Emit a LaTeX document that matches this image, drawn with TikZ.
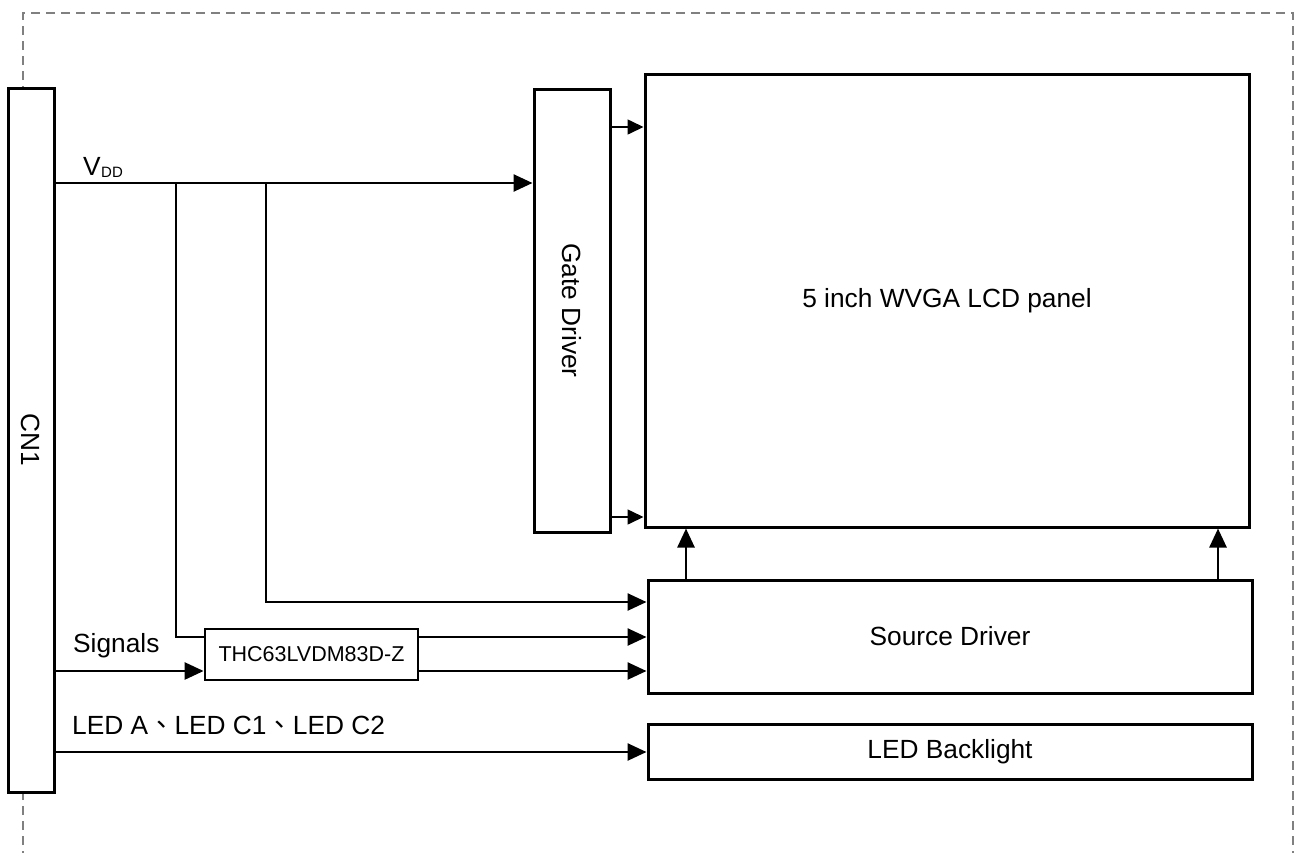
\documentclass[tikz,border=0pt]{standalone}
\usepackage{fontspec}
\setmainfont{Liberation Sans}
\newfontfamily\cjkfont{Noto Sans CJK TC}
\usetikzlibrary{arrows.meta}
\definecolor{borderGray}{HTML}{808080}
\begin{document}
\begin{tikzpicture}[x=1pt,y=-1pt,
  box/.style={draw, line width=3pt, fill=white, inner sep=0pt, font=\fontsize{26.3}{30}\selectfont},
  conn/.style={line width=2.6pt, line join=miter},
  arr/.style={-{Triangle[length=19pt,width=17pt]}},
  thinarr/.style={line width=1.6pt, -{Triangle[length=16pt,width=15pt]}},
  lbl/.style={font=\fontsize{26.3}{30}\selectfont, inner sep=0pt, anchor=base west},
  frame/.style={draw=borderGray, line width=1.5pt, dash pattern=on 9pt off 6pt}]
\useasboundingbox (0,0) rectangle (1297,852);
% dashed outline
\draw[frame] (23,860) -- (23,13) -- (1293,13) -- (1293,860);
% boxes
\node[box, minimum width=46pt, minimum height=704pt] (cn1) at (31,440) {\rotatebox{-90}{CN1}};
\node[box, minimum width=76pt, minimum height=443pt] (gate) at (572,310.5) {\rotatebox{-90}{Gate Driver}};
\node[box, minimum width=604pt, minimum height=453pt] (lcd) at (947,300.5) {5 inch WVGA LCD panel};
\node[box, minimum width=604pt, minimum height=113pt] (src) at (950,636.5) {Source Driver};
\node[box, minimum width=604pt, minimum height=55pt] (led) at (950,751.5) {LED Backlight};
\node[box, line width=2.8pt, minimum width=213pt, minimum height=51pt, font=\fontsize{21.5}{25}\selectfont] (thc) at (311.5,654.5) {THC63LVDM83D-Z};
% junctions
\coordinate (j1) at (176,183);
\coordinate (j2) at (266,183);
% VDD
\draw[conn,arr] (cn1.east |- 0,183) -- (gate.west |- 0,183);
\draw[conn] (j1) -- (176,637) -- (thc.west |- 0,637);
\draw[conn,arr] (j2) -- (266,602) -- (src.west |- 0,602);
% signals
\draw[conn,arr] (cn1.east |- 0,671) -- (thc.west |- 0,671);
\draw[conn,arr] (thc.east |- 0,637) -- (src.west |- 0,637);
\draw[conn,arr] (thc.east |- 0,671) -- (src.west |- 0,671);
% LED
\draw[conn,arr] (cn1.east |- 0,752) -- (led.west |- 0,752);
% gate to lcd
\draw[thinarr] (gate.east |- 0,127) -- (lcd.west |- 0,127);
\draw[thinarr] (gate.east |- 0,517) -- (lcd.west |- 0,517);
% source to lcd
\draw[conn,arr] (src.north -| 686,0) -- (lcd.south -| 686,0);
\draw[conn,arr] (src.north -| 1218,0) -- (lcd.south -| 1218,0);
% labels
\node[lbl] (vdd) at (83,175) {V\kern0.5pt{\fontsize{15}{17}\selectfont\raisebox{-2pt}{DD}}};
\node[lbl] (sig) at (73,652) {Signals};
\node[lbl] (ledlbl) at (72,734) {LED A{\cjkfont 、}LED C1{\cjkfont 、}LED C2};
\end{tikzpicture}
\end{document}
